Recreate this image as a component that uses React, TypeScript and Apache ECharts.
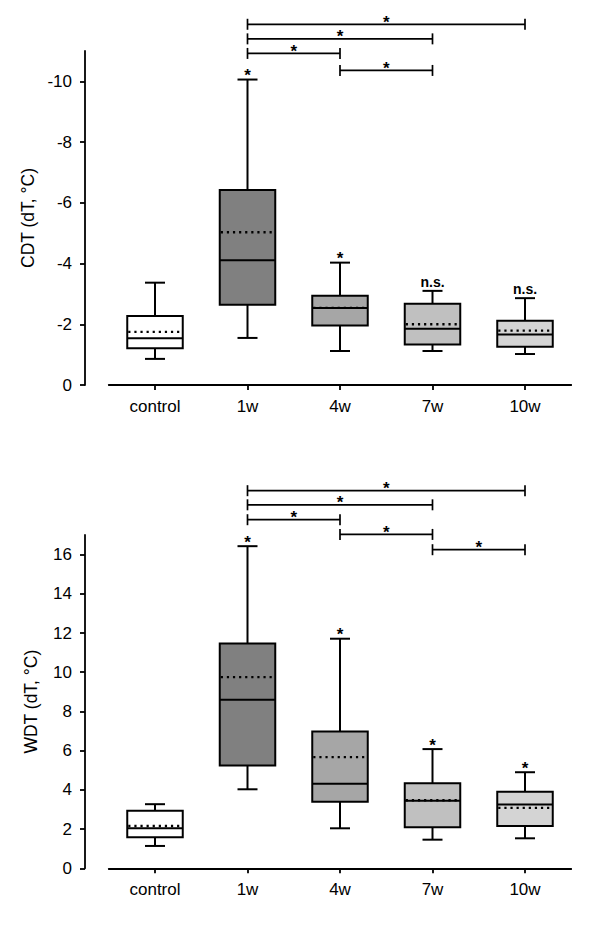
import React, { useEffect, useRef } from 'react';
import * as echarts from 'echarts';

const categories = ['control', '1w', '4w', '7w', '10w'];

// CDT (negative values, axis inverted so 0 is at the bottom)
const cdtMin = [-0.86, -1.55, -1.12, -1.12, -1.02];
const cdtQ1 = [-1.21, -2.64, -1.96, -1.33, -1.26];
const cdtMedian = [-1.54, -4.11, -2.54, -1.85, -1.66];
const cdtQ3 = [-2.27, -6.42, -2.94, -2.68, -2.12];
const cdtMax = [-3.37, -10.06, -4.03, -3.1, -2.86];
const cdtMean = [-1.75, -5.03, -2.54, -2.0, -1.79];
const cdtMarks = ['', '*', '*', 'n.s.', 'n.s.'];
const cdtTicks = [0, -2, -4, -6, -8, -10];
// [from category, level, to category]
const cdtBrackets = [
  [1, -11.88, 4],
  [1, -11.4, 3],
  [1, -10.92, 2],
  [2, -10.36, 3],
];

// WDT
const wdtMin = [1.14, 4.03, 2.04, 1.46, 1.53];
const wdtQ1 = [1.58, 5.24, 3.39, 2.09, 2.16];
const wdtMedian = [2.04, 8.6, 4.31, 3.45, 3.25];
const wdtQ3 = [2.93, 11.46, 6.98, 4.34, 3.9];
const wdtMax = [3.27, 16.43, 11.71, 6.08, 4.9];
const wdtMean = [2.16, 9.75, 5.67, 3.47, 3.08];
const wdtMarks = ['', '*', '*', '*', '*'];
const wdtTicks = [0, 2, 4, 6, 8, 10, 12, 14, 16];
const wdtBrackets = [
  [1, 19.26, 4],
  [1, 18.54, 3],
  [1, 17.78, 2],
  [2, 17.03, 3],
  [3, 16.25, 4],
];

const boxFills = ['#ffffff', '#808080', '#a6a6a6', '#c0c0c0', '#d4d4d4'];
const FONT = '"Liberation Sans", Arial, Helvetica, sans-serif';

function makeBoxRender(marks: string[]) {
  return (params: any, api: any) => {
    const i = api.value(0);
    const cx = api.coord([i, 0])[0];
    const yMin = api.coord([i, api.value(1)])[1];
    const yQ1 = api.coord([i, api.value(2)])[1];
    const yMed = api.coord([i, api.value(3)])[1];
    const yQ3 = api.coord([i, api.value(4)])[1];
    const yMax = api.coord([i, api.value(5)])[1];
    const yMean = api.coord([i, api.value(6)])[1];
    const band = api.size([1, 0])[0];
    const bw = band * 0.6;
    const cw = 20;
    const lw = 2;
    const line = { stroke: '#000', lineWidth: lw };
    const top = Math.min(yQ1, yQ3);
    const h = Math.abs(yQ1 - yQ3);
    const children: any[] = [
      { type: 'line', shape: { x1: cx, y1: yMax, x2: cx, y2: Math.min(yQ3, yQ1) }, style: line },
      { type: 'line', shape: { x1: cx, y1: Math.max(yQ3, yQ1), x2: cx, y2: yMin }, style: line },
      { type: 'line', shape: { x1: cx - cw / 2, y1: yMax, x2: cx + cw / 2, y2: yMax }, style: line },
      { type: 'line', shape: { x1: cx - cw / 2, y1: yMin, x2: cx + cw / 2, y2: yMin }, style: line },
      {
        type: 'rect',
        shape: { x: cx - bw / 2, y: top, width: bw, height: h },
        style: { fill: boxFills[i], stroke: '#000', lineWidth: lw },
      },
      { type: 'line', shape: { x1: cx - bw / 2, y1: yMed, x2: cx + bw / 2, y2: yMed }, style: line },
      {
        type: 'line',
        shape: { x1: cx - bw / 2 + 1, y1: yMean, x2: cx + bw / 2, y2: yMean },
        style: { stroke: '#000', lineWidth: 2.4, lineDash: [2.2, 3.9] },
      },
    ];
    const mark = marks[i];
    if (mark) {
      const isStar = mark === '*';
      children.push({
        type: 'text',
        style: {
          x: cx,
          y: yMax - (isStar ? 4 : 9),
          text: mark,
          align: 'center',
          verticalAlign: 'middle',
          fontSize: isStar ? 17 : 14,
          fontWeight: 'bold',
          fontFamily: FONT,
          fill: '#000',
        },
      });
    }
    return { type: 'group', children };
  };
}

function bracketRender(params: any, api: any) {
  const p1 = api.coord([api.value(0), api.value(1)]);
  const p2 = api.coord([api.value(2), api.value(1)]);
  const y = p1[1];
  const line = { stroke: '#000', lineWidth: 1.7 };
  return {
    type: 'group',
    children: [
      { type: 'line', shape: { x1: p1[0], y1: y, x2: p2[0], y2: y }, style: line },
      { type: 'line', shape: { x1: p1[0], y1: y - 5.5, x2: p1[0], y2: y + 5.5 }, style: line },
      { type: 'line', shape: { x1: p2[0], y1: y - 5.5, x2: p2[0], y2: y + 5.5 }, style: line },
      {
        type: 'text',
        style: {
          x: (p1[0] + p2[0]) / 2,
          y: y - 2,
          text: '*',
          align: 'center',
          verticalAlign: 'middle',
          fontSize: 17,
          fontWeight: 'bold',
          fontFamily: FONT,
          fill: '#000',
        },
      },
    ],
  };
}

function boxData(mn: number[], q1: number[], md: number[], q3: number[], mx: number[], mean: number[]) {
  return categories.map((_, i) => [i, mn[i], q1[i], md[i], q3[i], mx[i], mean[i]]);
}

export default function App() {
  const ref = useRef<HTMLDivElement>(null);
  useEffect(() => {
    if (!ref.current) return;
    const chart = echarts.init(ref.current, undefined, { renderer: 'svg' });
    const axisLine = { show: true, lineStyle: { color: '#000', width: 1.8 } };
    const axisTick = { show: true, length: 5, lineStyle: { color: '#000', width: 1.8 } };
    const labelStyle = { color: '#000', fontSize: 17, fontFamily: FONT };
    const xAxisCommon = {
      type: 'category',
      data: categories,
      boundaryGap: true,
      axisLine: { ...axisLine, onZero: false },
      axisTick: { ...axisTick, alignWithLabel: true },
      axisLabel: { ...labelStyle, margin: 13 },
      splitLine: { show: false },
    };
    chart.setOption({
      animation: false,
      backgroundColor: '#ffffff',
      grid: [
        { left: 108.75, right: 28.75, top: 51, height: 334 },
        { left: 108.75, right: 28.75, top: 535, height: 333.3 },
      ],
      xAxis: [
        { ...xAxisCommon, gridIndex: 0 },
        { ...xAxisCommon, gridIndex: 1 },
      ],
      yAxis: [
        {
          type: 'value',
          gridIndex: 0,
          min: -11,
          max: 0,
          inverse: true,
          offset: 23.75,
          name: 'CDT (dT, °C)',
          nameLocation: 'middle',
          nameGap: 48,
          nameTextStyle: { color: '#000', fontSize: 17.5, fontFamily: FONT },
          axisLine,
          axisTick: { ...axisTick, customValues: cdtTicks },
          axisLabel: { ...labelStyle, margin: 13, customValues: cdtTicks },
          splitLine: { show: false },
        },
        {
          type: 'value',
          gridIndex: 1,
          min: 0,
          max: 17,
          offset: 23.75,
          name: 'WDT (dT, °C)',
          nameLocation: 'middle',
          nameGap: 45,
          nameTextStyle: { color: '#000', fontSize: 17.5, fontFamily: FONT },
          axisLine,
          axisTick: { ...axisTick, customValues: wdtTicks },
          axisLabel: { ...labelStyle, margin: 13, customValues: wdtTicks },
          splitLine: { show: false },
        },
      ],
      series: [
        {
          type: 'custom',
          xAxisIndex: 0,
          yAxisIndex: 0,
          clip: false,
          silent: true,
          encode: { x: 0, y: [1, 2, 3, 4, 5, 6] },
          renderItem: makeBoxRender(cdtMarks),
          data: boxData(cdtMin, cdtQ1, cdtMedian, cdtQ3, cdtMax, cdtMean),
        },
        {
          type: 'custom',
          xAxisIndex: 0,
          yAxisIndex: 0,
          clip: false,
          silent: true,
          encode: { x: [0, 2], y: 1 },
          renderItem: bracketRender,
          data: cdtBrackets,
        },
        {
          type: 'custom',
          xAxisIndex: 1,
          yAxisIndex: 1,
          clip: false,
          silent: true,
          encode: { x: 0, y: [1, 2, 3, 4, 5, 6] },
          renderItem: makeBoxRender(wdtMarks),
          data: boxData(wdtMin, wdtQ1, wdtMedian, wdtQ3, wdtMax, wdtMean),
        },
        {
          type: 'custom',
          xAxisIndex: 1,
          yAxisIndex: 1,
          clip: false,
          silent: true,
          encode: { x: [0, 2], y: 1 },
          renderItem: bracketRender,
          data: wdtBrackets,
        },
      ],
    });
    return () => chart.dispose();
  }, []);
  return (
    <div
      ref={ref}
      style={{ position: 'fixed', left: 0, top: 0, width: 600, height: 932, background: '#fff' }}
    />
  );
}
